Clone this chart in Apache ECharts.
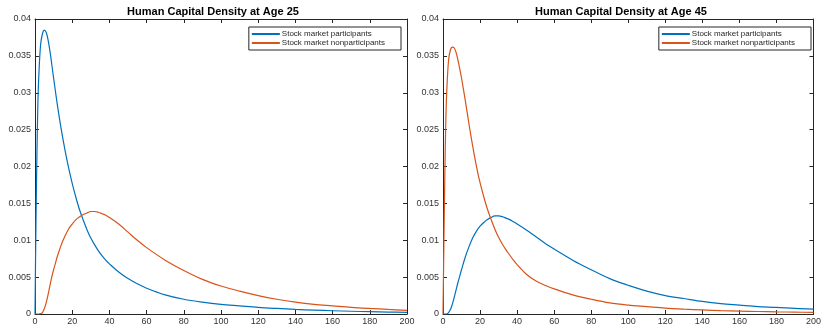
<!DOCTYPE html>
<html>
<head>
<meta charset="utf-8">
<script src="https://cdn.jsdelivr.net/npm/echarts@6/dist/echarts.min.js"></script>
<style>
  html, body { margin: 0; padding: 0; background: #fff; }
  #chart { width: 824px; height: 326px; }
</style>
</head>
<body>
<div id="chart"></div>
<script>
// Human capital (x) and density values for each group.
const titles = ['Human Capital Density at Age 25', 'Human Capital Density at Age 45'];
const seriesNames = ['Stock market participants', 'Stock market nonparticipants'];

// Age 25 — participants
const p25X = [0, 0.5, 1, 1.5, 2, 3, 4, 5, 6, 7, 8, 9, 10, 12, 14, 16, 18, 20, 22, 24, 26, 28, 30, 32, 34, 36, 38, 40, 45, 50, 55, 60, 70, 80, 90, 100, 110, 120, 130, 140, 150, 160, 170, 180, 190, 200];
const p25Y = [0, 0.012, 0.021, 0.028, 0.032, 0.0365, 0.038, 0.0385, 0.0382, 0.0372, 0.0357, 0.0339, 0.0320, 0.0284, 0.0252, 0.0224, 0.0199, 0.0177, 0.0158, 0.0141, 0.0127, 0.0114, 0.0103, 0.0094, 0.0086, 0.0079, 0.0073, 0.0068, 0.0057, 0.0048, 0.0041, 0.0035, 0.0026, 0.0020, 0.0016, 0.0013, 0.0011, 0.0009, 0.00075, 0.00062, 0.00052, 0.00044, 0.00037, 0.00031, 0.00026, 0.00022];

// Age 25 — nonparticipants
const n25X = [0, 2, 3, 4, 5, 6, 7, 8, 9, 10, 11, 12, 14, 16, 18, 20, 22, 24, 26, 28, 30, 32, 34, 36, 38, 40, 45, 50, 55, 60, 70, 80, 90, 100, 110, 120, 130, 140, 150, 160, 170, 180, 190, 200];
const n25Y = [0, 0, 0.00005, 0.0002, 0.0007, 0.0015, 0.0026, 0.0038, 0.0050, 0.0060, 0.0069, 0.0078, 0.0093, 0.0105, 0.0115, 0.0122, 0.0128, 0.0132, 0.0135, 0.0137, 0.0139, 0.0139, 0.0138, 0.0136, 0.0134, 0.0131, 0.0122, 0.0111, 0.0100, 0.0090, 0.0073, 0.0059, 0.0047, 0.0038, 0.0031, 0.0025, 0.0020, 0.0016, 0.0013, 0.0011, 0.0009, 0.00075, 0.00062, 0.0005];

// Age 45 — participants
const p45X = [0, 2, 3, 4, 5, 6, 7, 8, 9, 10, 12, 14, 16, 18, 20, 22, 24, 26, 28, 30, 32, 34, 36, 38, 40, 45, 50, 55, 60, 70, 80, 90, 100, 110, 120, 130, 140, 150, 160, 170, 180, 190, 200];
const p45Y = [0, 0, 0.0002, 0.0006, 0.0013, 0.0022, 0.0032, 0.0042, 0.0051, 0.0060, 0.0077, 0.0091, 0.0103, 0.0112, 0.0119, 0.0124, 0.0128, 0.0131, 0.0133, 0.0133, 0.0132, 0.0130, 0.0128, 0.0125, 0.0122, 0.0114, 0.0105, 0.0096, 0.0088, 0.0073, 0.0060, 0.0048, 0.0039, 0.0031, 0.0025, 0.0021, 0.0017, 0.0014, 0.0012, 0.0010, 0.0009, 0.00075, 0.00065];

// Age 45 — nonparticipants
const n45X = [0, 0.5, 1, 1.5, 2, 3, 4, 5, 6, 7, 8, 9, 10, 12, 14, 16, 18, 20, 22, 24, 26, 28, 30, 32, 34, 36, 38, 40, 45, 50, 55, 60, 70, 80, 90, 100, 110, 120, 130, 140, 150, 160, 170, 180, 190, 200];
const n45Y = [0, 0.010, 0.019, 0.026, 0.030, 0.0344, 0.0358, 0.0362, 0.0361, 0.0355, 0.0345, 0.0333, 0.0320, 0.0290, 0.0258, 0.0228, 0.0201, 0.0178, 0.0159, 0.0142, 0.0128, 0.0115, 0.0104, 0.0095, 0.0087, 0.0080, 0.0073, 0.0067, 0.0054, 0.0045, 0.0039, 0.0034, 0.0026, 0.0020, 0.0015, 0.0012, 0.0010, 0.0008, 0.00066, 0.00055, 0.00046, 0.0004, 0.00034, 0.00029, 0.00025, 0.00021];

const xTicks = { min: 0, max: 200, interval: 20 };
const yTicks = { min: 0, max: 0.04, interval: 0.005 };

const BLUE = '#0072BD';
const ORANGE = '#D95319';
const AXIS = '#262626';
const FONT = 'Liberation Sans, Arial, Helvetica, sans-serif';

const pairs = (xs, ys) => xs.map((x, i) => [x, ys[i]]);

const grids = [
  { left: 35, top: 19, width: 372, height: 295 },
  { left: 443, top: 19, width: 374, height: 295 }
];

function xAxisFor(gi, pos) {
  return {
    type: 'value', gridIndex: gi, position: pos,
    min: xTicks.min, max: xTicks.max, interval: xTicks.interval,
    axisLine: { show: true, onZero: false, lineStyle: { color: AXIS, width: 1 } },
    axisTick: { show: true, inside: true, length: 4, lineStyle: { color: AXIS } },
    axisLabel: { show: pos === 'bottom', color: '#333', fontSize: 9, fontFamily: FONT, margin: 3 },
    splitLine: { show: false }
  };
}
function yAxisFor(gi, pos) {
  return {
    type: 'value', gridIndex: gi, position: pos,
    min: yTicks.min, max: yTicks.max, interval: yTicks.interval,
    axisLine: { show: true, onZero: false, lineStyle: { color: AXIS, width: 1 } },
    axisTick: { show: true, inside: true, length: 4, lineStyle: { color: AXIS } },
    axisLabel: {
      show: pos === 'left', color: '#333', fontSize: 9, fontFamily: FONT, margin: 4,
      formatter: v => String(+v.toFixed(3))
    },
    splitLine: { show: false }
  };
}

function lineSeries(name, gi, data, color) {
  return {
    name, type: 'line', xAxisIndex: gi * 2, yAxisIndex: gi * 2,
    data, smooth: 0.35, symbol: 'none',
    lineStyle: { color, width: 1.2 }, itemStyle: { color },
    z: 3
  };
}

function legendFor(gi) {
  const g = grids[gi];
  return {
    orient: 'vertical',
    right: 824 - (g.left + g.width) + 6,
    top: 27,
    width: 147,
    padding: [3, 16, 3, 3],
    itemGap: 1,
    itemWidth: 28,
    itemHeight: 2,
    icon: 'rect',
    borderColor: AXIS,
    borderWidth: 1,
    backgroundColor: '#fff',
    textStyle: { fontSize: 8, color: '#262626', fontFamily: FONT, padding: [0, 0, 0, -3] },
    data: seriesNames
  };
}

const chart = echarts.init(document.getElementById('chart'), null, { renderer: 'canvas' });
chart.setOption({
  animation: false,
  backgroundColor: '#fff',
  title: [
    { text: titles[0], left: 208, top: 1, textAlign: 'center',
      textStyle: { fontSize: 11, fontWeight: 'bold', color: '#000', fontFamily: FONT } },
    { text: titles[1], left: 616, top: 1, textAlign: 'center',
      textStyle: { fontSize: 11, fontWeight: 'bold', color: '#000', fontFamily: FONT } }
  ],
  legend: [legendFor(0), legendFor(1)],
  grid: grids,
  xAxis: [xAxisFor(0, 'bottom'), xAxisFor(0, 'top'), xAxisFor(1, 'bottom'), xAxisFor(1, 'top')],
  yAxis: [yAxisFor(0, 'left'), yAxisFor(0, 'right'), yAxisFor(1, 'left'), yAxisFor(1, 'right')],
  series: [
    lineSeries(seriesNames[0], 0, pairs(p25X, p25Y), BLUE),
    lineSeries(seriesNames[1], 0, pairs(n25X, n25Y), ORANGE),
    lineSeries(seriesNames[0], 1, pairs(p45X, p45Y), BLUE),
    lineSeries(seriesNames[1], 1, pairs(n45X, n45Y), ORANGE)
  ]
});
</script>
</body>
</html>
